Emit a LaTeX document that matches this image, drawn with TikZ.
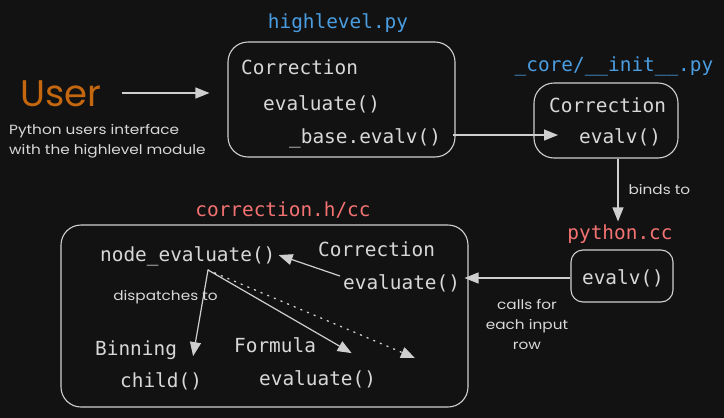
\documentclass[tikz,border=0pt]{standalone}
\usepackage{fontspec}
\setmonofont{DejaVu Sans Mono}
\newfontfamily\hand[FakeStretch=1.15]{Poppins}
\newfontfamily\handuser{Poppins}
\usetikzlibrary{arrows.meta,calc}
\definecolor{bg}{HTML}{121212}
\definecolor{ink}{HTML}{D8D8D8}
\definecolor{lin}{HTML}{CFCFCF}
\definecolor{bluet}{HTML}{4A9DE0}
\definecolor{redt}{HTML}{F47272}
\definecolor{orng}{HTML}{C4670F}
\tikzset{
  code/.style={font=\ttfamily\fontsize{19.4}{23}\selectfont, text=ink, inner sep=0pt},
  bluetitle/.style={code, text=bluet},
  redtitle/.style={code, text=redt},
  handtext/.style={font=\hand\fontsize{13.3}{20}\selectfont, text=ink, inner sep=0pt, align=center},
  box/.style={draw=lin, line width=1.1pt, rounded corners=20pt, inner sep=0pt},
  arr/.style={draw=lin, line width=1.2pt, -{Triangle[length=14pt,width=11pt]}},
  darr/.style={arr, line width=1.4pt, line cap=round, dash pattern=on 1.2pt off 6pt},
}
\begin{document}
\begin{tikzpicture}[x=1pt,y=-1pt]
\fill[bg] (0,0) rectangle (724,418);
\useasboundingbox (0,0) rectangle (724,418);

% User
\node[font=\handuser\fontsize{37}{40}\selectfont, text=orng, inner sep=0pt] (user) at (61,94) {User};
\node[handtext, align=left, anchor=north west] (usercap) at (9,124) {Python users interface\\with the highlevel module};

% highlevel.py
\node[bluetitle] (hltitle) at (338,23) {highlevel.py};
\node[box, minimum width=227pt, minimum height=115pt] (hl) at (341.5,99.5) {};
\node[code, anchor=mid west] (hlcorr) at (241,72) {Correction};
\node[code, anchor=mid west] (hleval) at (263,108) {evaluate()};
\node[code, anchor=mid west] (hlbase) at (289,141) {\_base.evalv()};

% _core/__init__.py
\node[bluetitle] (coretitle) at (614,66) {\_core/\_\_init\_\_.py};
\node[box, minimum width=144pt, minimum height=75pt] (core) at (606,120.5) {};
\node[code, anchor=mid west] (corecorr) at (549,110) {Correction};
\node[code, anchor=mid west] (coreev) at (579,141) {evalv()};

% python.cc
\node[redtitle] (pytitle) at (620,234) {python.cc};
\node[box, rounded corners=12pt, minimum width=102pt, minimum height=52pt] (py) at (622,276) {};
\node[code] (pyev) at (623,278) {evalv()};

% correction.h/cc
\node[redtitle] (cctitle) at (283,210) {correction.h/cc};
\node[box, minimum width=407pt, minimum height=182pt] (cc) at (264.5,316) {};
\node[code, anchor=mid west] (nodeev) at (100,259) {node\_evaluate()};
\node[code, anchor=mid west] (cccorr) at (318,254) {Correction};
\node[code, anchor=mid west] (cceval) at (343,287) {evaluate()};
\node[code, anchor=mid west] (binning) at (95,353) {Binning};
\node[code, anchor=mid west] (child) at (120,385) {child()};
\node[code, anchor=mid west] (formula) at (234,350) {Formula};
\node[code, anchor=mid west] (feval) at (259,383) {evaluate()};
\coordinate (disp) at (208,270);
\coordinate (other) at (415,358);

% connectors
\draw[arr] ($(user.east)+(20,-1)$) -- ($(hl.west |- user.east)+(-18,-1)$);
\draw[arr] ($(hlbase.east)+(12,-3)$) -- ($(coreev.west |- hlbase.east)+(-21,-3)$);
\draw[arr] ($(core.south)+(12,0)$) -- node[handtext, anchor=west, pos=0.5, xshift=10pt] (binds) {binds to} ($(pytitle.north)+(-2,-3)$);
\draw[arr] (py.west |- pyev.center) -- ($(cc.east |- pyev.center)+(-4,0)$);
\node[handtext, align=center] (calls) at (527,324) {calls for\\each input\\row};
\draw[arr] ($(cceval.west)+(-3,-7)$) -- ($(nodeev.east)+(3,-1)$);
\draw[arr] (disp) -- node[handtext, pos=0.3, xshift=-38pt, yshift=-1pt] (displ) {dispatches to} ($(child.north)+(32,-16)$);
\draw[arr] (disp) -- ($(feval.north)+(34,-17)$);
\draw[darr] (disp) -- (other);
\end{tikzpicture}
\end{document}
